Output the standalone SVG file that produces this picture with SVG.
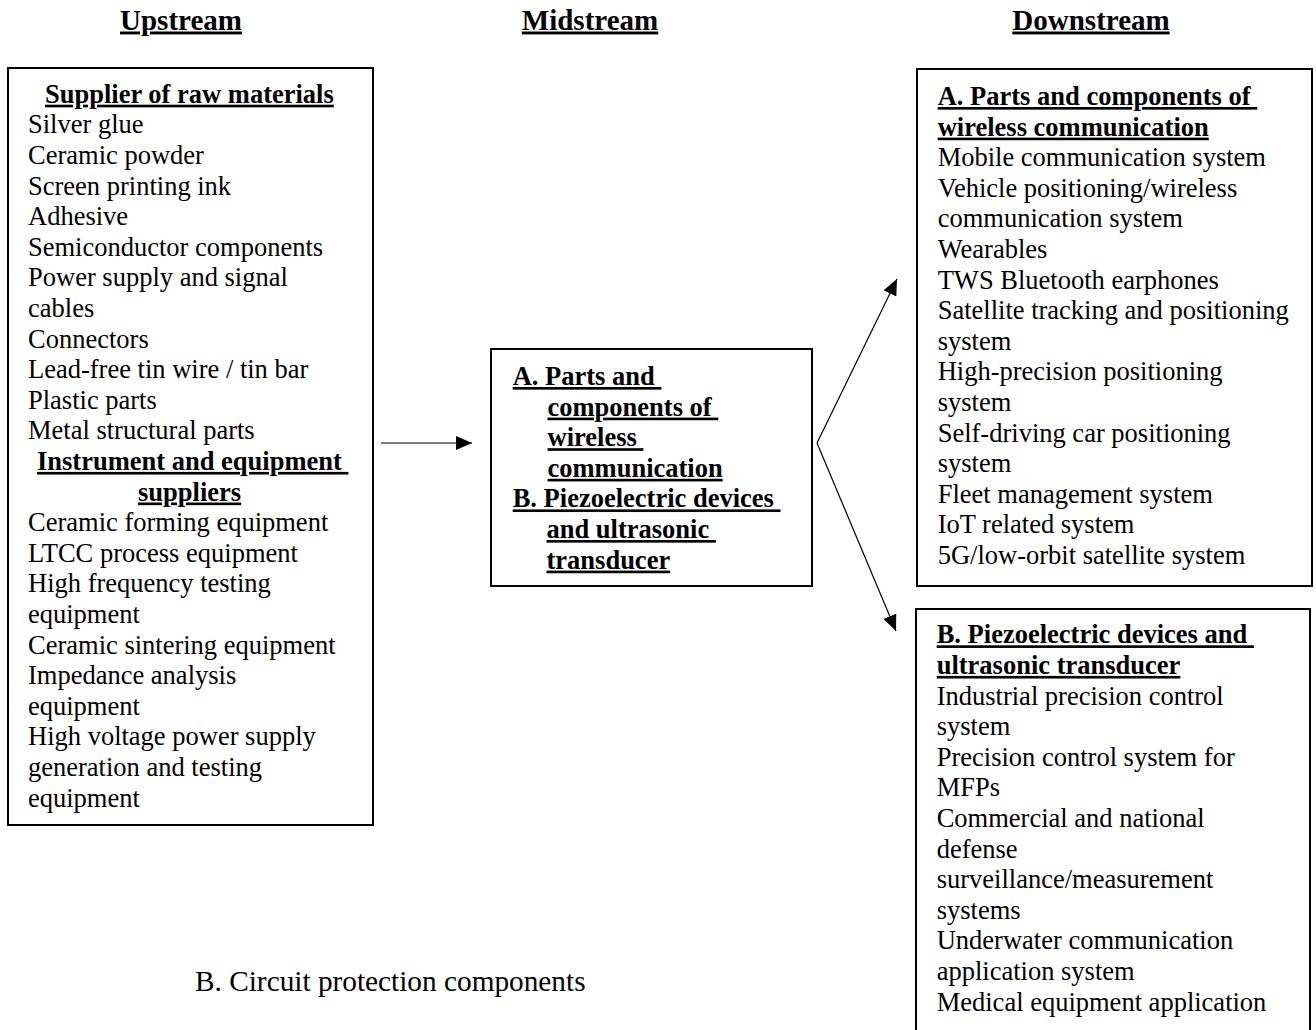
<svg xmlns="http://www.w3.org/2000/svg" width="1316" height="1030" viewBox="0 0 1316 1030">
<defs>
<style>
text{font-family:"Liberation Serif","Times New Roman",serif;fill:#000;white-space:pre}
.t{font-size:26.5px}
.n{font-size:29.3px}
.b{font-size:26.5px;font-weight:bold;text-decoration:underline}
.h{font-size:29px;font-weight:bold;text-decoration:underline;text-anchor:middle}
.box{fill:#fff;stroke:#000;stroke-width:2}
.conn{fill:none;stroke:#000;stroke-width:1.2}
</style>
<marker id="ah" markerUnits="userSpaceOnUse" markerWidth="16" markerHeight="14" refX="16" refY="7" orient="auto">
<path d="M0,0 L16,7 L0,14 z" fill="#000"/>
</marker>
</defs>
<rect width="1316" height="1030" fill="#fff"/>
<g id="headers">
<text class="h" x="181" y="29.5">Upstream</text>
<text class="h" x="590" y="29.5">Midstream</text>
<text class="h" x="1091" y="29.5">Downstream</text>
</g>
<g id="upstream">
<rect class="box" x="8" y="68" width="365" height="757"/>
<text class="b" x="45" y="102.7">Supplier of raw materials</text>
<text class="t" x="28">
<tspan x="28" y="133.3">Silver glue</tspan>
<tspan x="28" y="163.9">Ceramic powder</tspan>
<tspan x="28" y="194.5">Screen printing ink</tspan>
<tspan x="28" y="225.1">Adhesive</tspan>
<tspan x="28" y="255.7">Semiconductor components</tspan>
<tspan x="28" y="286.3">Power supply and signal</tspan>
<tspan x="28" y="316.9">cables</tspan>
<tspan x="28" y="347.5">Connectors</tspan>
<tspan x="28" y="378.1">Lead-free tin wire / tin bar</tspan>
<tspan x="28" y="408.7">Plastic parts</tspan>
<tspan x="28" y="439.3">Metal structural parts</tspan>
</text>
<text class="b" x="37" y="469.9">Instrument and equipment </text>
<text class="b" x="138" y="500.5">suppliers</text>
<text class="t">
<tspan x="28" y="531.1">Ceramic forming equipment</tspan>
<tspan x="28" y="561.7">LTCC process equipment</tspan>
<tspan x="28" y="592.3">High frequency testing</tspan>
<tspan x="28" y="622.9">equipment</tspan>
<tspan x="28" y="653.5">Ceramic sintering equipment</tspan>
<tspan x="28" y="684.1">Impedance analysis</tspan>
<tspan x="28" y="714.7">equipment</tspan>
<tspan x="28" y="745.3">High voltage power supply</tspan>
<tspan x="28" y="775.9">generation and testing</tspan>
<tspan x="28" y="806.5">equipment</tspan>
</text>
</g>
<g id="midstream">
<rect class="box" x="491" y="349" width="321" height="237"/>
<text class="b" x="512.7" y="385">A. Parts and </text>
<text class="b" x="547.5" y="415.6">components of </text>
<text class="b" x="547.5" y="446.2">wireless </text>
<text class="b" x="547.5" y="476.8">communication</text>
<text class="b" x="512.7" y="507.4">B. Piezoelectric devices </text>
<text class="b" x="546.5" y="538">and ultrasonic </text>
<text class="b" x="546.5" y="568.6">transducer</text>
</g>
<g id="downstream-a">
<rect class="box" x="917" y="69" width="395" height="517"/>
<text class="b" x="937.7" y="105">A. Parts and components of </text>
<text class="b" x="937.7" y="135.6">wireless communication</text>
<text class="t">
<tspan x="937.7" y="166.2">Mobile communication system</tspan>
<tspan x="937.7" y="196.8">Vehicle positioning/wireless</tspan>
<tspan x="937.7" y="227.4">communication system</tspan>
<tspan x="937.7" y="258">Wearables</tspan>
<tspan x="937.7" y="288.6">TWS Bluetooth earphones</tspan>
<tspan x="937.7" y="319.2">Satellite tracking and positioning</tspan>
<tspan x="937.7" y="349.8">system</tspan>
<tspan x="937.7" y="380.4">High-precision positioning</tspan>
<tspan x="937.7" y="411">system</tspan>
<tspan x="937.7" y="441.6">Self-driving car positioning</tspan>
<tspan x="937.7" y="472.2">system</tspan>
<tspan x="937.7" y="502.8">Fleet management system</tspan>
<tspan x="937.7" y="533.4">IoT related system</tspan>
<tspan x="937.7" y="564">5G/low-orbit satellite system</tspan>
</text>
</g>
<g id="downstream-b">
<rect class="box" x="916" y="609" width="394" height="440"/>
<text class="b" x="936.7" y="643.3">B. Piezoelectric devices and </text>
<text class="b" x="936.7" y="673.9">ultrasonic transducer</text>
<text class="t">
<tspan x="936.7" y="704.5">Industrial precision control</tspan>
<tspan x="936.7" y="735.1">system</tspan>
<tspan x="936.7" y="765.7">Precision control system for</tspan>
<tspan x="936.7" y="796.3">MFPs</tspan>
<tspan x="936.7" y="826.9">Commercial and national</tspan>
<tspan x="936.7" y="857.5">defense</tspan>
<tspan x="936.7" y="888.1">surveillance/measurement</tspan>
<tspan x="936.7" y="918.7">systems</tspan>
<tspan x="936.7" y="949.3">Underwater communication</tspan>
<tspan x="936.7" y="979.9">application system</tspan>
<tspan x="936.7" y="1010.5">Medical equipment application</tspan>
</text>
</g>
<g id="note">
<text class="n" x="195" y="990.7">B. Circuit protection components</text>
</g>
<g id="connectors">
<path class="conn" d="M381,443 L472,443" marker-end="url(#ah)"/>
<path class="conn" d="M817,443 L897,279" marker-end="url(#ah)"/>
<path class="conn" d="M817,443 L896,631" marker-end="url(#ah)"/>
</g>
</svg>
